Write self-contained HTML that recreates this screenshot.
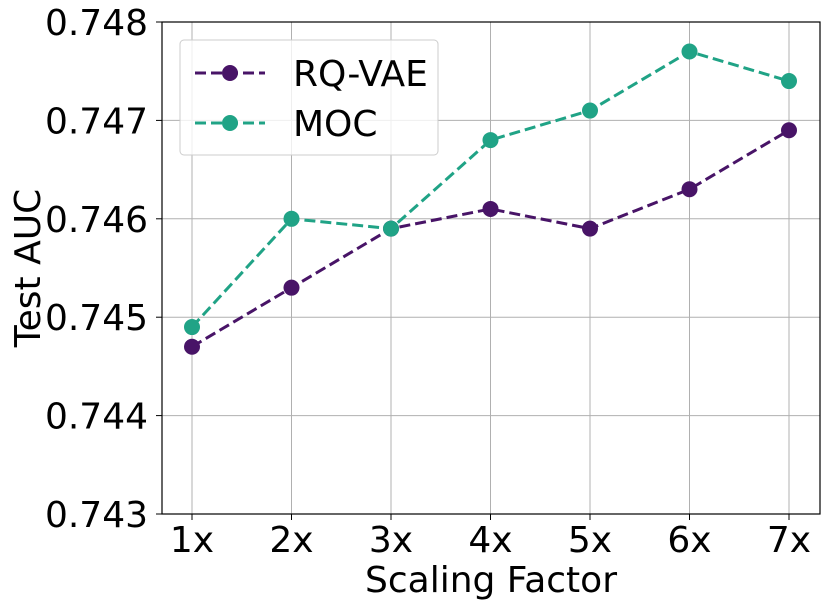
<!DOCTYPE html>
<html><head><meta charset="utf-8"><style>
body{margin:0;background:#fff}
svg text{font-family:"DejaVu Sans","Liberation Sans",sans-serif;fill:#000}
</style></head><body>
<svg id="chart" width="830" height="609" xmlns="http://www.w3.org/2000/svg">
<g id="grid"></g><g id="axes"></g><g id="series"></g><g id="legend"></g>
</svg>
<script>
const categories=["1x","2x","3x","4x","5x","6x","7x"];
const rqvae=[0.7447,0.7453,0.7459,0.7461,0.7459,0.7463,0.7469];
const moc=[0.7449,0.7460,0.7459,0.7468,0.7471,0.7477,0.7474];
const yTicks=[0.743,0.744,0.745,0.746,0.747,0.748];
const seriesNames=["RQ-VAE","MOC"];
const L=162,R=820,T=22,B=514;
const yMin=0.743,yMax=0.748;
const x=i=>192+i*(789-192)/(categories.length-1);
const y=v=>B-(v-yMin)/(yMax-yMin)*(B-T);
const NS="http://www.w3.org/2000/svg";
function mk(tag,attrs,parent,text){const e=document.createElementNS(NS,tag);for(const k in attrs)e.setAttribute(k,attrs[k]);if(text!==undefined)e.textContent=text;parent.appendChild(e);return e;}
const grid=document.getElementById('grid'),axes=document.getElementById('axes'),ser=document.getElementById('series'),leg=document.getElementById('legend');
const FS=36;
categories.forEach((c,i)=>{
 const g=mk('line',{x1:x(i),x2:x(i),y1:T,y2:B,stroke:'#b0b0b0','stroke-width':1},grid);
 
 mk('line',{x1:x(i),x2:x(i),y1:B,y2:B+6,stroke:'#000','stroke-width':1},axes);
 const t=mk('text',{x:x(i),y:552,'font-size':FS,'text-anchor':'middle'},axes,c);
 
});
yTicks.forEach(v=>{
 const g=mk('line',{x1:L,x2:R,y1:y(v),y2:y(v),stroke:'#b0b0b0','stroke-width':1},grid);
 
 mk('line',{x1:L-6,x2:L,y1:y(v),y2:y(v),stroke:'#000','stroke-width':1},axes);
 const t=mk('text',{x:L-14,y:y(v)+13,'font-size':FS,'text-anchor':'end'},axes,v.toFixed(3));
 
});
const fr=mk('rect',{x:L,y:T,width:R-L,height:B-T,fill:'none',stroke:'#000','stroke-width':1.2},axes);

const xt=mk('text',{x:(L+R)/2,y:592,'font-size':FS,'text-anchor':'middle'},axes,'Scaling Factor');

const yt=mk('text',{x:0,y:0,'font-size':FS,'text-anchor':'middle',transform:`translate(40,${(T+B)/2}) rotate(-90)`},axes,'Test AUC');

const colors=['#481467','#20a386'];
[rqvae,moc].forEach((d,s)=>{
 const p=mk('polyline',{points:d.map((v,i)=>x(i)+','+y(v)).join(' '),fill:'none',stroke:colors[s],'stroke-width':3,'stroke-dasharray':'11,5'},ser);
 
 d.forEach((v,i)=>{const c=mk('circle',{cx:x(i),cy:y(v),r:8,fill:colors[s]},ser);
  });
});
const lb=mk('rect',{x:180,y:40,width:258,height:115,rx:4,fill:'#fff','fill-opacity':0.8,stroke:'#cccccc','stroke-width':1},leg);

seriesNames.forEach((n,s)=>{
 const yy=73+s*50;
 const g=mk('g',{},leg);
 
 mk('line',{x1:195,x2:265,y1:yy,y2:yy,stroke:colors[s],'stroke-width':3,'stroke-dasharray':'11,5'},g);
 mk('circle',{cx:230,cy:yy,r:8,fill:colors[s]},g);
 mk('text',{x:293,y:yy+13,'font-size':FS},g,n);
});
</script>
</body></html>
